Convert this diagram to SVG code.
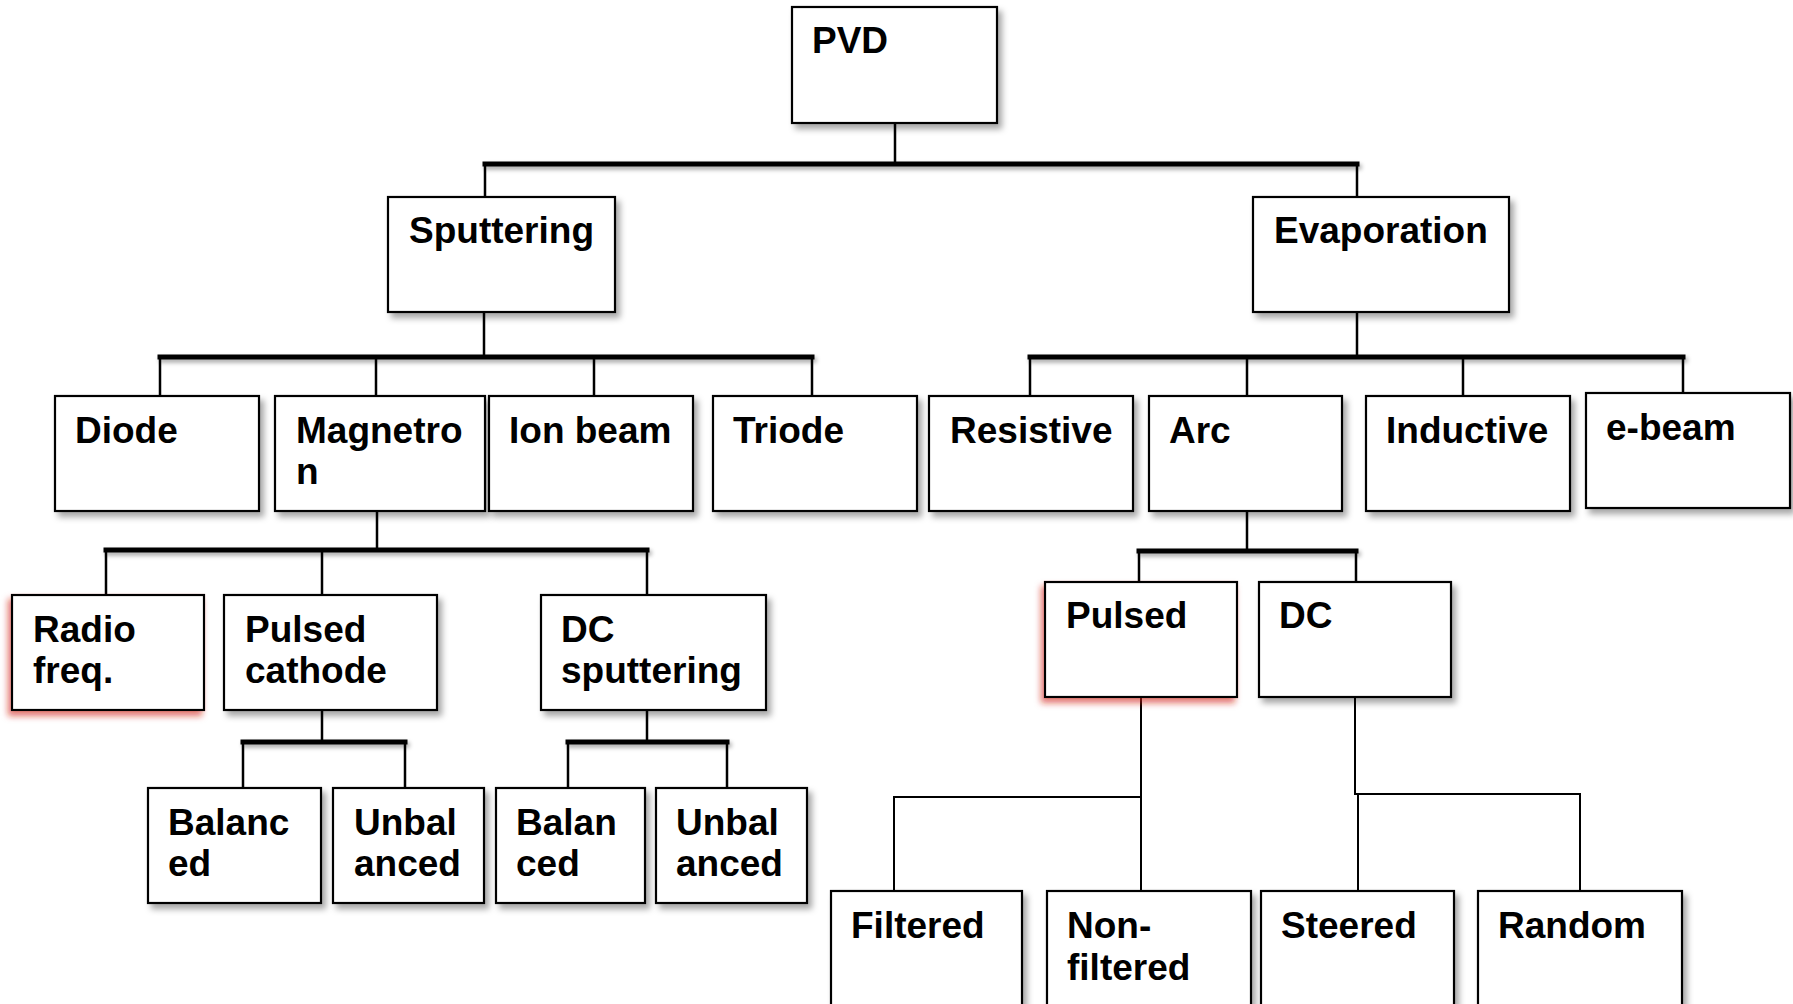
<svg xmlns="http://www.w3.org/2000/svg" width="1793" height="1004" viewBox="0 0 1793 1004">
<style>
.box{fill:#fff;stroke:#000;stroke-width:2.2}
.lbl{font-family:"Liberation Sans",Arial,sans-serif;font-weight:bold;font-size:37px;fill:#000}
.bar{stroke:#000;stroke-width:5;fill:none;stroke-linecap:square}
.stem{stroke:#000;stroke-width:2.5;fill:none}
.thin{stroke:#000;stroke-width:2;fill:none}
</style>
<defs>
<filter id="sh" x="-10%" y="-10%" width="130%" height="140%">
<feDropShadow dx="4" dy="5" stdDeviation="3" flood-color="#000" flood-opacity="0.35"/>
</filter>
<filter id="shr" x="-10%" y="-10%" width="130%" height="140%">
<feDropShadow dx="-3" dy="5" stdDeviation="3" flood-color="#d02010" flood-opacity="0.6"/>
</filter>
<filter id="bsh" x="-5%" y="-100%" width="110%" height="400%">
<feDropShadow dx="2" dy="3" stdDeviation="2" flood-color="#000" flood-opacity="0.35"/>
</filter>
</defs>
<rect width="1793" height="1004" fill="#fff"/>
<g id="connectors">
<g filter="url(#bsh)">
<path class="bar" d="M485 164H1357"/>
<path class="bar" d="M160 357H812"/>
<path class="bar" d="M1030 357H1683"/>
<path class="bar" d="M106 550H647"/>
<path class="bar" d="M1139 551H1356"/>
<path class="bar" d="M243 742H405"/>
<path class="bar" d="M568 742H727"/>
</g>
<path class="stem" d="M895 123V164M485 164V197M1357 164V197"/>
<path class="stem" d="M484 312V357M160 357V396M376 357V396M594 357V396M812 357V396"/>
<path class="stem" d="M1357 312V357M1030 357V396M1247 357V396M1463 357V396M1683 357V393"/>
<path class="stem" d="M377 511V550M106 550V595M322 550V595M647 550V595"/>
<path class="stem" d="M1247 511V551M1139 551V582M1356 551V582"/>
<path class="stem" d="M322 710V742M243 742V788M405 742V788"/>
<path class="stem" d="M647 710V742M568 742V788M727 742V788"/>
<path class="thin" d="M1141 697V891M1141 797H894V903"/>
<path class="thin" d="M1355 697V794H1580V891M1358 794V891"/>
</g>
<g id="n-pvd"><rect class="box" filter="url(#sh)" x="792" y="7" width="205" height="116"/><text class="lbl" x="812" y="53">PVD</text></g>
<g id="n-sputtering"><rect class="box" filter="url(#sh)" x="388" y="197" width="227" height="115"/><text class="lbl" x="409" y="243">Sputtering</text></g>
<g id="n-evaporation"><rect class="box" filter="url(#sh)" x="1253" y="197" width="256" height="115"/><text class="lbl" x="1274" y="243">Evaporation</text></g>
<g id="n-diode"><rect class="box" filter="url(#sh)" x="55" y="396" width="204" height="115"/><text class="lbl" x="75" y="443">Diode</text></g>
<g id="n-magnetron"><rect class="box" filter="url(#sh)" x="275" y="396" width="210" height="115"/><text class="lbl" x="296" y="443">Magnetro</text><text class="lbl" x="296" y="484">n</text></g>
<g id="n-ionbeam"><rect class="box" filter="url(#sh)" x="489" y="396" width="204" height="115"/><text class="lbl" x="509" y="443">Ion beam</text></g>
<g id="n-triode"><rect class="box" filter="url(#sh)" x="713" y="396" width="204" height="115"/><text class="lbl" x="733" y="443">Triode</text></g>
<g id="n-resistive"><rect class="box" filter="url(#sh)" x="929" y="396" width="204" height="115"/><text class="lbl" x="950" y="443">Resistive</text></g>
<g id="n-arc"><rect class="box" filter="url(#sh)" x="1149" y="396" width="193" height="115"/><text class="lbl" x="1169" y="443">Arc</text></g>
<g id="n-inductive"><rect class="box" filter="url(#sh)" x="1366" y="396" width="204" height="115"/><text class="lbl" x="1386" y="443">Inductive</text></g>
<g id="n-ebeam"><rect class="box" filter="url(#sh)" x="1586" y="393" width="204" height="115"/><text class="lbl" x="1606" y="440">e-beam</text></g>
<g id="n-radiofreq"><rect class="box" filter="url(#shr)" x="12" y="595" width="192" height="115"/><text class="lbl" x="33" y="642">Radio</text><text class="lbl" x="33" y="683">freq.</text></g>
<g id="n-pulsedcathode"><rect class="box" filter="url(#sh)" x="224" y="595" width="213" height="115"/><text class="lbl" x="245" y="642">Pulsed</text><text class="lbl" x="245" y="683">cathode</text></g>
<g id="n-dcsputtering"><rect class="box" filter="url(#sh)" x="541" y="595" width="225" height="115"/><text class="lbl" x="561" y="642">DC</text><text class="lbl" x="561" y="683">sputtering</text></g>
<g id="n-pulsed"><rect class="box" filter="url(#shr)" x="1045" y="582" width="192" height="115"/><text class="lbl" x="1066" y="628">Pulsed</text></g>
<g id="n-dc"><rect class="box" filter="url(#sh)" x="1259" y="582" width="192" height="115"/><text class="lbl" x="1279" y="628">DC</text></g>
<g id="n-balanced1"><rect class="box" filter="url(#sh)" x="148" y="788" width="173" height="115"/><text class="lbl" x="168" y="835">Balanc</text><text class="lbl" x="168" y="876">ed</text></g>
<g id="n-unbalanced1"><rect class="box" filter="url(#sh)" x="333" y="788" width="151" height="115"/><text class="lbl" x="354" y="835">Unbal</text><text class="lbl" x="354" y="876">anced</text></g>
<g id="n-balanced2"><rect class="box" filter="url(#sh)" x="496" y="788" width="149" height="115"/><text class="lbl" x="516" y="835">Balan</text><text class="lbl" x="516" y="876">ced</text></g>
<g id="n-unbalanced2"><rect class="box" filter="url(#sh)" x="656" y="788" width="151" height="115"/><text class="lbl" x="676" y="835">Unbal</text><text class="lbl" x="676" y="876">anced</text></g>
<g id="n-filtered"><rect class="box" filter="url(#sh)" x="831" y="891" width="191" height="130"/><text class="lbl" x="851" y="938">Filtered</text></g>
<g id="n-nonfiltered"><rect class="box" filter="url(#sh)" x="1047" y="891" width="204" height="130"/><text class="lbl" x="1067" y="938">Non-</text><text class="lbl" x="1067" y="980">filtered</text></g>
<g id="n-steered"><rect class="box" filter="url(#sh)" x="1261" y="891" width="193" height="130"/><text class="lbl" x="1281" y="938">Steered</text></g>
<g id="n-random"><rect class="box" filter="url(#sh)" x="1478" y="891" width="204" height="130"/><text class="lbl" x="1498" y="938">Random</text></g>
</svg>
